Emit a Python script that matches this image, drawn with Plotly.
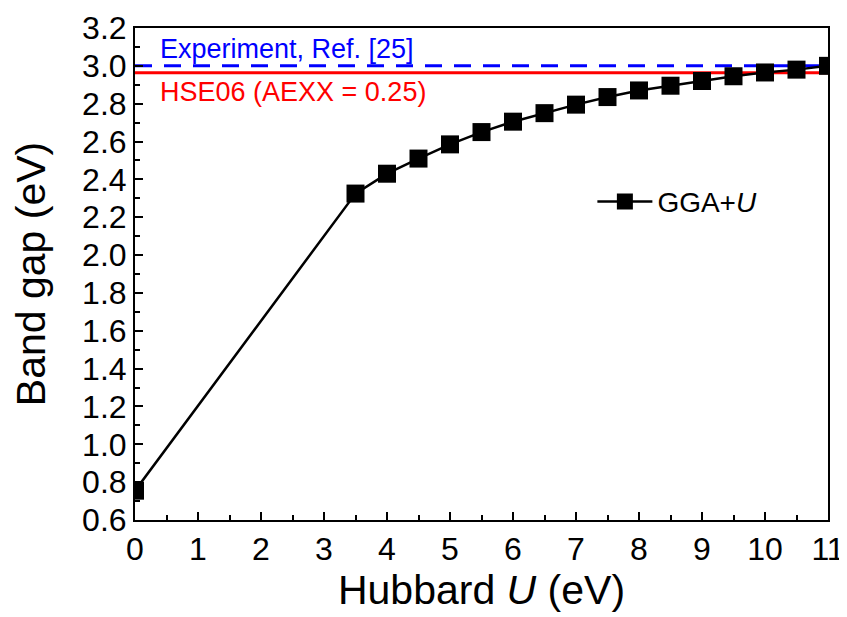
import plotly.graph_objects as go

# Data
hubbard_u = [0, 3.5, 4, 4.5, 5, 5.5, 6, 6.5, 7, 7.5, 8, 8.5, 9, 9.5, 10, 10.5, 11]
band_gap = [0.755, 2.325, 2.43, 2.51, 2.585, 2.65, 2.705, 2.75, 2.795, 2.835, 2.87, 2.895, 2.92, 2.945, 2.965, 2.98, 3.0]
experiment_gap = 3.0
hse06_gap = 2.963

FONT = "Liberation Sans, Arial, sans-serif"

fig = go.Figure()

fig.add_trace(go.Scatter(
    x=hubbard_u, y=band_gap, mode="lines+markers",
    name="GGA+<i>U</i>",
    line=dict(color="black", width=2.5),
    marker=dict(symbol="square", size=18, color="black"),
    cliponaxis=True,
))

fig.add_shape(type="line", xref="paper", yref="y", x0=0, x1=1,
              y0=experiment_gap, y1=experiment_gap,
              line=dict(color="#0000ff", width=3, dash="17px,12px"), layer="below")
fig.add_shape(type="line", xref="paper", yref="y", x0=0, x1=1,
              y0=hse06_gap, y1=hse06_gap,
              line=dict(color="#ff0000", width=3), layer="below")

fig.add_annotation(x=0.033, xref="paper", y=experiment_gap, yref="y",
                   text="Experiment, Ref. [25]", showarrow=False,
                   xanchor="left", yanchor="bottom", yshift=0,
                   font=dict(family=FONT, size=27, color="#0000ff"))
fig.add_annotation(x=0.033, xref="paper", y=hse06_gap, yref="y",
                   text="HSE06 (AEXX = 0.25)", showarrow=False,
                   xanchor="left", yanchor="top", yshift=-2,
                   font=dict(family=FONT, size=27, color="#ff0000"))

axis_common = dict(
    showline=True, linecolor="black", linewidth=2, mirror=True,
    ticks="inside", ticklen=8, tickwidth=2, tickcolor="black",
    showgrid=False, zeroline=False, automargin=False,
    tickfont=dict(family=FONT, size=32, color="black"),
)

fig.update_xaxes(
    range=[0, 11], dtick=1, tick0=0,
    minor=dict(dtick=0.5, ticks="inside", ticklen=5, tickwidth=2, tickcolor="black"),
    title=dict(text="Hubbard <i>U</i> (eV)", font=dict(family=FONT, size=41, color="black"), standoff=6),
    **axis_common,
)
fig.update_yaxes(
    range=[0.6, 3.2], dtick=0.2, tick0=0.6, tickformat=".1f",
    minor=dict(dtick=0.1, ticks="inside", ticklen=5, tickwidth=2, tickcolor="black"),
    title=dict(text="Band gap (eV)", font=dict(family=FONT, size=41, color="black"), standoff=24),
    **axis_common,
)

# page body adds an 8px offset, so the figure is sized to fit the window
fig.update_layout(
    width=839, height=609,
    margin=dict(l=127, r=19, t=20, b=97),
    paper_bgcolor="white", plot_bgcolor="white",
    showlegend=True,
    legend=dict(x=0.66, y=0.647, xanchor="left", yanchor="middle", itemwidth=55,
                bgcolor="rgba(0,0,0,0)", font=dict(family=FONT, size=28, color="black")),
)

fig.write_html("out.html")
